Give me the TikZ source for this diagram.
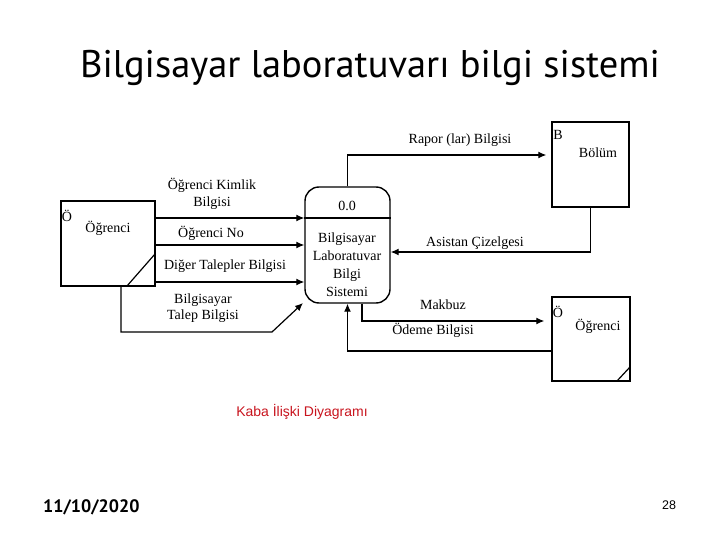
\documentclass[tikz,border=0pt]{standalone}
\usepackage{fontspec}
\setmainfont{Liberation Serif}
\newfontfamily\titlefont{PT Sans}
\newfontfamily\arialfont{Liberation Sans}
\usetikzlibrary{arrows.meta,calc}
\definecolor{capred}{RGB}{200,20,30}
\tikzset{
  lbl/.style={font=\fontsize{14}{16}\selectfont, inner sep=0pt},
  boxs/.style={draw, line width=1.4pt, inner sep=0pt},
  conn/.style={line width=1.2pt},
  arr/.style={conn, -{Latex[length=8pt,width=7pt]}},
}
\begin{document}
\begin{tikzpicture}[x=1pt,y=-1pt]
\useasboundingbox (0,0) rectangle (720,540);
% title
\node[font=\titlefont\fontsize{38.5}{42}\selectfont, inner sep=0] (title) at (370,68) {Bilgisayar laboratuvarı bilgi sistemi};
% boxes
\node[boxs, minimum width=94pt, minimum height=85pt] (stuL) at (108,243.5) {};
\node[boxs, rounded corners=14pt, minimum width=85pt, minimum height=116pt] (proc) at (347.5,245) {};
\node[boxs, minimum width=77pt, minimum height=85pt] (bolum) at (590.5,164.5) {};
\node[boxs, minimum width=78pt, minimum height=84pt] (stuR) at (591,339) {};
% store corner marks
\draw[conn] (127,286) -- (155,254);
\draw[conn] (617,381) -- (630,367);
% process divider
\draw[conn] (proc.west |- 0,218) -- (proc.east |- 0,218);
% store texts
\node[lbl] (oL) at (67,216) {Ö};
\node[lbl] (nL) at (108,228) {Öğrenci};
\node[lbl] (bB) at (558,135) {B};
\node[lbl] (nB) at (598,153) {Bölüm};
\node[lbl] (oR) at (558,312) {Ö};
\node[lbl] (nR) at (598,326) {Öğrenci};
% process texts
\node[lbl] (pid) at (347,206) {0.0};
\node[lbl, align=center, font=\fontsize{14}{18}\selectfont] (pname) at (347,265) {Bilgisayar\\Laboratuvar\\Bilgi\\Sistemi};
% connectors
\draw[arr] (stuL.east |- 0,218) -- (proc.west |- 0,218);
\draw[arr] (stuL.east |- 0,245) -- (proc.west |- 0,245);
\draw[arr] (stuL.east |- 0,282) -- (proc.west |- 0,282);
\coordinate (tl1) at (272,332);
\coordinate (tl2) at (303,303);
\draw[arr] (stuL.south -| 121,0) |- (tl1) -- (tl2);
\draw[arr, shorten >=5pt] (proc.north) |- (bolum.west |- 0,155);
\draw[arr] (bolum.south) |- (proc.east |- 0,252);
\draw[arr, shorten >=7pt] (proc.south -| 362,0) |- (stuR.west |- 0,321);
\draw[arr] (stuR.west |- 0,351) -| (proc.south);
% connector labels
\node[lbl, align=center, font=\fontsize{14}{17}\selectfont] (l1) at (212,194) {Öğrenci Kimlik\\Bilgisi};
\node[lbl] (l2) at (211,233) {Öğrenci No};
\node[lbl] (l3) at (225,266) {Diğer Talepler Bilgisi};
\node[lbl, align=center, font=\fontsize{14}{16}\selectfont] (l4) at (203,308) {Bilgisayar\\Talep Bilgisi};
\node[lbl] (l5) at (460,140) {Rapor (lar) Bilgisi};
\node[lbl] (l6) at (475,243) {Asistan Çizelgesi};
\node[lbl] (l7) at (443,305) {Makbuz};
\node[lbl] (l8) at (433,330) {Ödeme Bilgisi};
% caption and footer
\node[font=\arialfont\fontsize{14}{16}\selectfont, text=capred, inner sep=0] (cap) at (302,412) {Kaba İlişki Diyagramı};
\node[font=\titlefont\bfseries\fontsize{18}{20}\selectfont, anchor=west, inner sep=0] (date) at (43,507) {11/10/2020};
\node[font=\arialfont\fontsize{12.5}{14}\selectfont, inner sep=0] (pg) at (669,505) {28};
\end{tikzpicture}
\end{document}
